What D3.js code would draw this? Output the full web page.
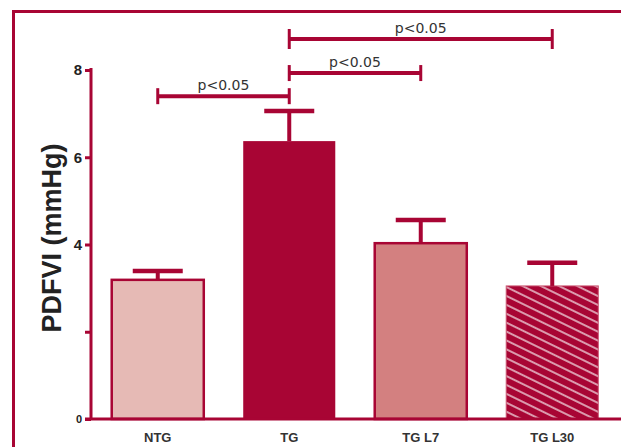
<!DOCTYPE html>
<html><head><meta charset="utf-8">
<script src="https://cdn.jsdelivr.net/npm/d3@7/dist/d3.min.js"></script>
<style>body{margin:0;background:#fff}svg{display:block}</style>
</head><body><svg id="c" width="621" height="447"></svg>
<script>
const categories = ["NTG", "TG", "TG L7", "TG L30"];
const means = [3.19, 6.37, 4.03, 3.05];
const errTops = [3.39, 7.06, 4.56, 3.58];
const tickValues = [0, 2, 4, 6, 8];
const tickLabels = ["0", "", "4", "6", "8"];
const sigFrom = ["NTG", "TG", "TG"];
const sigTo = ["TG", "TG L7", "TG L30"];
const sigLevel = [7.40, 7.93, 8.71];
const sigText = ["p<0.05", "p<0.05", "p<0.05"];

const RED = "#A80534";
const fills = ["#E6BAB5", RED, "#D38080", "url(#hatch)"];

const svg = d3.select("#c");
const defs = svg.append("defs");
const pat = defs.append("pattern").attr("id", "hatch").attr("patternUnits", "userSpaceOnUse")
  .attr("width", 8).attr("height", 8).attr("patternTransform", "rotate(26)");
pat.append("rect").attr("width", 8).attr("height", 8).attr("fill", RED);
pat.append("line").attr("x1", -1).attr("x2", 9).attr("y1", 4).attr("y2", 4)
  .attr("stroke", "#fff").attr("stroke-width", 1.2);

// frame (open on the right)
svg.append("path").attr("d", "M640,11.5H13.5V470")
  .attr("fill", "none").attr("stroke", RED).attr("stroke-width", 3);

const x = d3.scaleBand().domain(categories).range([92, 618]).paddingInner(0.3).paddingOuter(0.15);
const y = d3.scaleLinear().domain([0, 8]).range([419, 70]);

// bars
svg.selectAll("rect.bar").data(categories).join("rect").attr("class", "bar")
  .attr("x", d => x(d)).attr("width", x.bandwidth())
  .attr("y", (d, i) => y(means[i])).attr("height", (d, i) => y(0) - y(means[i]))
  .attr("fill", (d, i) => fills[i])
  .attr("stroke", (d, i) => i === 3 ? "#C9506E" : RED).attr("stroke-width", (d, i) => i === 1 ? 0 : (i === 3 ? 1 : 2.5));

// error bars
categories.forEach((c, i) => {
  const cx = x(c) + x.bandwidth() / 2;
  svg.append("line").attr("x1", cx).attr("x2", cx).attr("y1", y(means[i])).attr("y2", y(errTops[i]))
    .attr("stroke", RED).attr("stroke-width", 4);
  svg.append("line").attr("x1", cx - 25).attr("x2", cx + 25).attr("y1", y(errTops[i])).attr("y2", y(errTops[i]))
    .attr("stroke", RED).attr("stroke-width", 4.5);
});

// axes
const yAxis = d3.axisLeft(y).tickValues(tickValues).tickFormat((d, i) => tickLabels[i]).tickSize(6).tickPadding(3);
const gy = svg.append("g").attr("transform", "translate(91,0)").call(yAxis);
gy.select(".domain").attr("stroke", RED).attr("stroke-width", 3).attr("d", "M0,68V419");
gy.selectAll(".tick line").attr("stroke", RED).attr("stroke-width", 3);
gy.selectAll(".tick text").attr("fill", "#222").attr("font-family", "Liberation Sans, Arial, sans-serif")
  .attr("font-weight", "bold").attr("font-size", (d) => d === 0 ? 11 : 15);

svg.append("line").attr("x1", 85).attr("x2", 621).attr("y1", y(0)).attr("y2", y(0))
  .attr("stroke", RED).attr("stroke-width", 3);

const xAxis = d3.axisBottom(x).tickSize(0).tickPadding(14);
const gx = svg.append("g").attr("transform", `translate(0,${y(0)})`).call(xAxis);
gx.select(".domain").remove();
gx.selectAll(".tick text").attr("fill", "#333").attr("font-family", "Liberation Sans, Arial, sans-serif")
  .attr("font-weight", "bold").attr("font-size", 13);

// y label
svg.append("text").attr("transform", "translate(61,238) rotate(-90)").attr("text-anchor", "middle")
  .attr("font-family", "Liberation Sans, Arial, sans-serif").attr("font-weight", "bold")
  .attr("font-size", 27).attr("fill", "#222").text("PDFVI (mmHg)");

// significance brackets
sigFrom.forEach((f, i) => {
  const x1 = x(f) + x.bandwidth() / 2, x2 = x(sigTo[i]) + x.bandwidth() / 2, yy = y(sigLevel[i]);
  const h = i === 2 ? 10 : 8;
  const g = svg.append("g").attr("stroke", RED);
  g.append("line").attr("x1", x1).attr("x2", x2).attr("y1", yy).attr("y2", yy).attr("stroke-width", 4);
  g.append("line").attr("x1", x1).attr("x2", x1).attr("y1", yy - h).attr("y2", yy + h).attr("stroke-width", 3);
  g.append("line").attr("x1", x2).attr("x2", x2).attr("y1", yy - h).attr("y2", yy + h).attr("stroke-width", 3);
  svg.append("text").attr("x", (x1 + x2) / 2).attr("y", yy - 6).attr("text-anchor", "middle")
    .attr("font-family", "DejaVu Sans, sans-serif").attr("font-size", 14).attr("fill", "#333").text(sigText[i]);
});
</script></body></html>
